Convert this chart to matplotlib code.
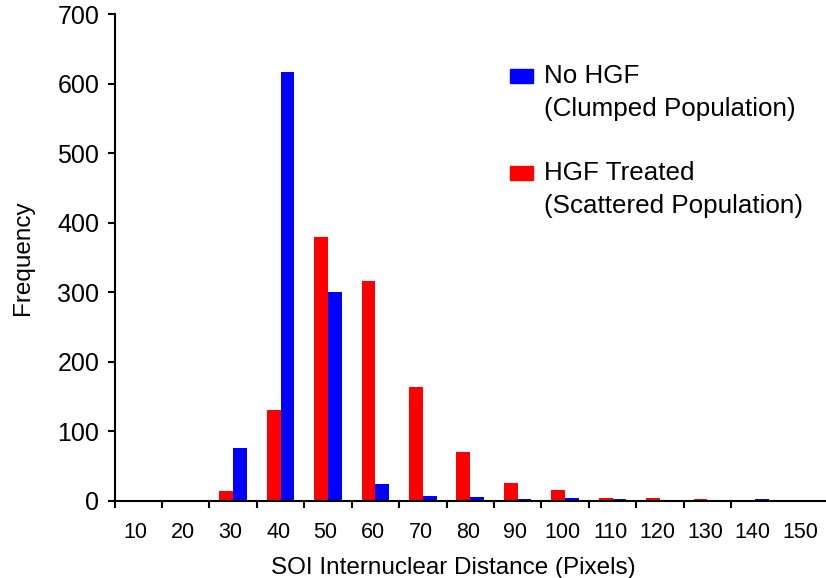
"""
SOI internuclear distance histogram: No HGF vs HGF treated.
"""

import matplotlib
matplotlib.use("Agg")
import matplotlib.pyplot as plt
from matplotlib.patches import Rectangle
import numpy as np

BIN_CENTERS = [10, 20, 30, 40, 50, 60, 70, 80, 90, 100, 110, 120, 130, 140, 150]
NO_HGF = [0, 0, 76, 617, 300, 24, 7, 6, 3, 4, 3, 0, 0, 3, 0]
HGF_TREATED = [0, 0, 15, 131, 380, 316, 164, 71, 26, 16, 5, 5, 3, 0, 0]
Y_TICKS = [0, 100, 200, 300, 400, 500, 600, 700]

BLUE = "#0000FF"
RED = "#FF0000"

plt.rcParams["font.family"] = ["Liberation Sans", "DejaVu Sans"]

W, H = 826, 578
fig = plt.figure(figsize=(W / 100, H / 100), dpi=100)
ax = fig.add_axes([114.5 / W, 77 / H, (W - 114.5) / W, 487 / H])

x = np.array(BIN_CENTERS, dtype=float)
bw = 2.9
ax.bar(x - bw / 2, HGF_TREATED, width=bw, color=RED, linewidth=0, zorder=2)
ax.bar(x + bw / 2, NO_HGF, width=bw, color=BLUE, linewidth=0, zorder=2)

ax.set_xlim(5, 155)
ax.set_ylim(0, 700)

# tick marks sit on the bin edges, labels sit under the bin centres
ax.set_xticks(x[:-1] - 5, labels=[""] * (len(x) - 1))
ax.set_xticks(x - 0.5, labels=[str(v) for v in BIN_CENTERS], minor=True)
ax.tick_params(axis="x", which="major", length=5, width=1.5, direction="out")
ax.tick_params(axis="x", which="minor", length=0, pad=15, labelsize=15.5)
ax.set_yticks(Y_TICKS)
ax.tick_params(axis="y", length=5, width=1.5, direction="out", pad=6, labelsize=18)

for side in ("top", "right"):
    ax.spines[side].set_visible(False)
for side in ("left", "bottom"):
    ax.spines[side].set_linewidth(1.5)

ax.set_xlabel("SOI Internuclear Distance (Pixels)", fontsize=17.5, labelpad=10)
ax.xaxis.label.set_x(0.476)
ax.set_ylabel("Frequency", fontsize=17.5, labelpad=16.5)

# legend drawn by hand so the swatch lines up with the first line of text
entries = [
    (BLUE, "No HGF", "(Clumped Population)", 76),
    (RED, "HGF Treated", "(Scattered Population)", 173),
]
for color, line1, line2, ypx in entries:
    fig.patches.append(Rectangle((510 / W, (H - ypx - 7) / H), 23 / W, 14 / H,
                                 transform=fig.transFigure, color=color))
    fig.text(544 / W, (H - ypx) / H, line1, fontsize=18.7, va="center", ha="left")
    fig.text(544 / W, (H - ypx - 33) / H, line2, fontsize=18.7, va="center", ha="left")

fig.savefig("out.png", dpi=100)
